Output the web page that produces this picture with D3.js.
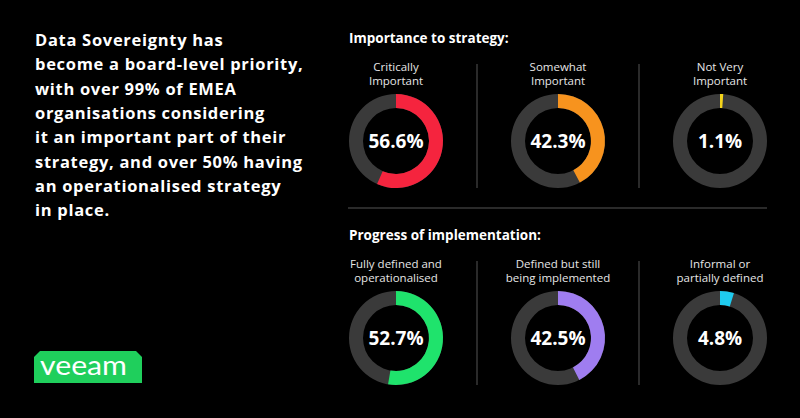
<!DOCTYPE html>
<html>
<head>
<meta charset="utf-8">
<script src="https://cdn.jsdelivr.net/npm/d3@7"></script>
<style>
  html, body { margin: 0; padding: 0; background: #000; }
  svg { display: block; font-family: "Open Sans", "Lato", sans-serif; }
</style>
</head>
<body>
<div id="chart"></div>
<script>
// Data
const headline = [
    "Data Sovereignty has",
    "become a board-level priority,",
    "with over 99% of EMEA",
    "organisations considering",
    "it an important part of their",
    "strategy, and over 50% having",
    "an operationalised strategy",
    "in place."
];

const importanceTitle = "Importance to strategy:";
const importanceLabels = [["Critically", "Important"], ["Somewhat", "Important"], ["Not Very", "Important"]];
const importanceValues = [56.6, 42.3, 1.1];
const importanceColors = ["#f5243e", "#f7931e", "#f3d31b"];

const progressTitle = "Progress of implementation:";
const progressLabels = [["Fully defined and", "operationalised"], ["Defined but still", "being implemented"], ["Informal or", "partially defined"]];
const progressValues = [52.7, 42.5, 4.8];
const progressColors = ["#1fe36c", "#9f7df0", "#1fcbef"];

const width = 800, height = 418;
const outerR = 47, innerR = 33;

const svg = d3.select("#chart")
    .append("svg")
    .attr("width", width)
    .attr("height", height);

svg.append("rect").attr("width", width).attr("height", height).attr("fill", "#000");

// Headline text
svg.append("g")
    .selectAll("text")
    .data(headline)
    .enter()
    .append("text")
    .attr("x", 35)
    .attr("y", (d, i) => 46 + i * 24.3)
    .attr("fill", "#fff")
    .attr("font-size", 16.5)
    .attr("font-weight", 700)
    .attr("letter-spacing", 0.7)
    .text(d => d);

// Logo
const logo = svg.append("g").attr("transform", "translate(34,351)");
logo.append("path")
    .attr("d", "M6,0 L102,0 L108,6 L108,32 L0,32 L0,6 Z")
    .attr("fill", "#1fcf5c");
logo.append("text")
    .attr("x", 6)
    .attr("y", 24)
    .attr("fill", "#fff")
    .attr("font-family", "Lato, sans-serif")
    .attr("font-size", 27)
    .attr("font-weight", 400)
    .attr("textLength", 87)
    .attr("lengthAdjust", "spacingAndGlyphs")
    .text("veeam");

// Donut columns
const x = d3.scalePoint().domain([0, 1, 2]).range([396, 720]);
const angle = d3.scaleLinear().domain([0, 100]).range([0, 2 * Math.PI]);
const arc = d3.arc().innerRadius(innerR).outerRadius(outerR);

function section(title, labels, values, colors, top) {
    const g = svg.append("g");

    g.append("text")
        .attr("x", 349)
        .attr("y", top)
        .attr("fill", "#fff")
        .attr("font-size", 13.5)
        .attr("font-weight", 700)
        .text(title);

    // separators
    [0.5, 1.5].forEach(p => {
        const sx = (x(Math.floor(p)) + x(Math.ceil(p))) / 2;
        g.append("line")
            .attr("x1", sx).attr("x2", sx)
            .attr("y1", top + 21).attr("y2", top + 145)
            .attr("stroke", "#555")
            .attr("stroke-width", 1);
    });

    values.forEach((v, i) => {
        const cx = x(i);
        const cy = top + 98;

        g.selectAll(null)
            .data(labels[i])
            .enter()
            .append("text")
            .attr("x", cx)
            .attr("y", (d, j) => top + 28 + j * 14)
            .attr("text-anchor", "middle")
            .attr("fill", "#e6e6e6")
            .attr("font-size", 11.5)
            .text(d => d);

        const d = g.append("g").attr("transform", `translate(${cx},${cy})`);
        d.append("path")
            .attr("d", arc({ startAngle: 0, endAngle: 2 * Math.PI }))
            .attr("fill", "#3a3a3a");
        d.append("path")
            .attr("d", arc({ startAngle: 0, endAngle: angle(v) }))
            .attr("fill", colors[i]);
        d.append("text")
            .attr("y", 7)
            .attr("text-anchor", "middle")
            .attr("fill", "#fff")
            .attr("font-size", 19)
            .attr("font-weight", 700)
            .text(v.toFixed(1) + "%");
    });
}

section(importanceTitle, importanceLabels, importanceValues, importanceColors, 43);
section(progressTitle, progressLabels, progressValues, progressColors, 240);

// divider between sections
svg.append("line")
    .attr("x1", 348).attr("x2", 767)
    .attr("y1", 208).attr("y2", 208)
    .attr("stroke", "#555")
    .attr("stroke-width", 1.2);
</script>
</body>
</html>
